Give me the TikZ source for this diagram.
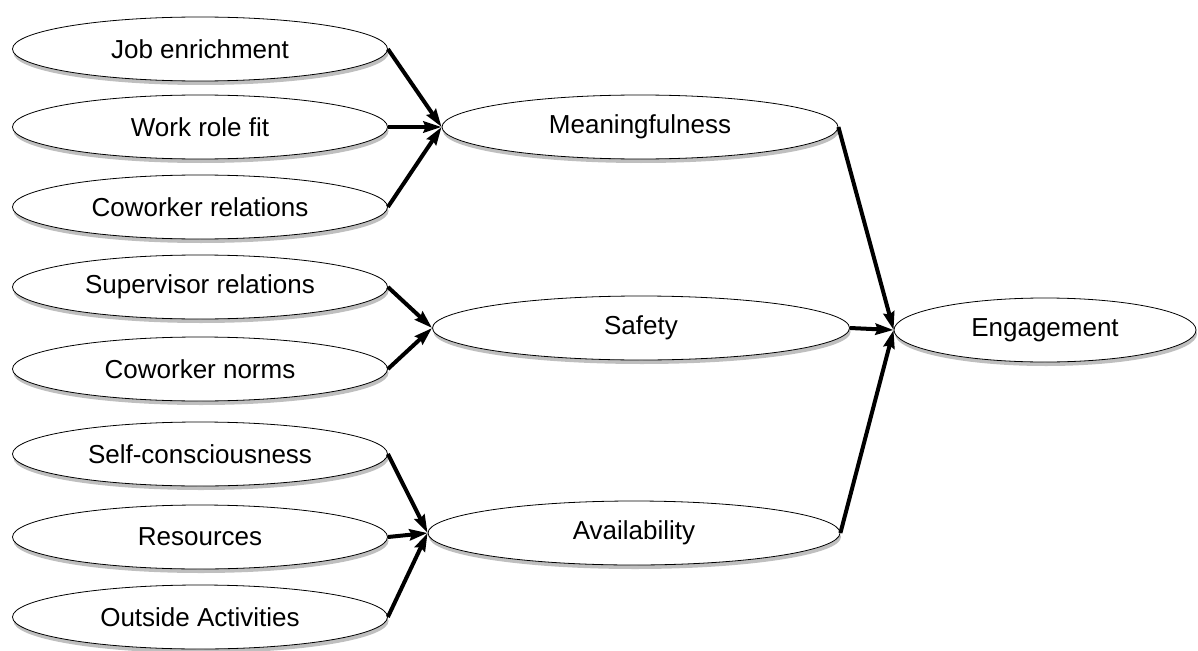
\documentclass[tikz,border=0pt]{standalone}
\usepackage{fontspec}
\setmainfont{Liberation Sans}
\usepackage{tikz}
\usetikzlibrary{shapes.geometric}
\usetikzlibrary{arrows.meta,arrows}
\usetikzlibrary{shadows}
\tikzset{
  oval/.style={ellipse, draw, line width=0.8pt, fill=white, inner sep=0pt,
    minimum height=64pt, font=\fontsize{26}{30}\selectfont,
    drop shadow={shadow xshift=1pt, shadow yshift=-4pt, opacity=0.5}},
  factor/.style={oval, minimum width=375pt},
  link/.style={line width=4pt, -{Stealth[length=18pt,width=11pt,inset=2pt]}}
}

\begin{document}
\begin{tikzpicture}[x=1pt,y=-1pt]
\useasboundingbox (0,0) rectangle (1198,650);
% antecedents
\foreach \name/\txt/\ypos in {jobenr/Job enrichment/49, rolefit/Work role fit/127,
    cowrel/Coworker relations/207, suprel/Supervisor relations/287,
    cownorm/Coworker norms/369, selfcon/Self-consciousness/454,
    resour/Resources/537, outact/Outside Activities/617}
  \node[factor] (\name) at (200,\ypos) {\txt};
% psychological conditions
\node[oval, minimum width=396pt] (mean) at (640,127) {Meaningfulness};
\node[oval, minimum width=417pt] (safe) at (641,328) {Safety};
\node[oval, minimum width=412pt] (avail) at (634,533) {Availability};
\node[oval, minimum width=302pt] (engage) at (1045,330) {Engagement};

\foreach \src in {jobenr,rolefit,cowrel}
  \draw[link] (\src.east) -- (mean.west);
\foreach \src in {suprel,cownorm}
  \draw[link] (\src.east) -- (safe.west);
\foreach \src in {selfcon,resour,outact}
  \draw[link] (\src.east) -- (avail.west);
\foreach \src in {mean,safe,avail}
  \draw[link] (\src.east) -- (engage.west);
\end{tikzpicture}
\end{document}
